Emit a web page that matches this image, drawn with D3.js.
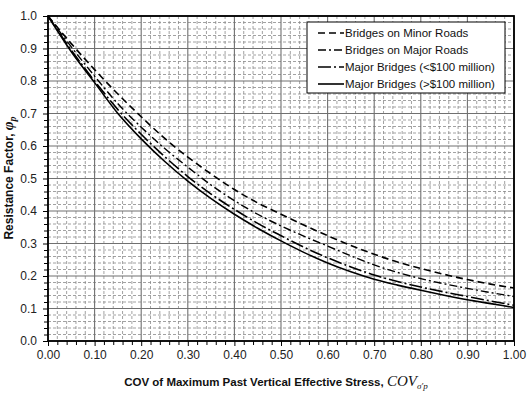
<!DOCTYPE html>
<html><head><meta charset="utf-8">
<script src="https://cdn.jsdelivr.net/npm/d3@7"></script>
<style>html,body{margin:0;padding:0;background:#fff}svg{display:block}</style>
</head><body>
<script>
const cov = [0,0.05,0.10,0.15,0.20,0.25,0.30,0.35,0.40,0.45,0.50,0.55,0.60,0.65,0.70,0.75,0.80,0.85,0.90,0.95,1.00];
const minorRoads = [1.0,0.915,0.835,0.760,0.690,0.624,0.566,0.514,0.466,0.425,0.390,0.356,0.324,0.294,0.267,0.243,0.223,0.205,0.189,0.175,0.163];
const majorRoads = [1.0,0.905,0.815,0.730,0.658,0.593,0.535,0.480,0.432,0.390,0.354,0.322,0.292,0.262,0.234,0.211,0.192,0.176,0.162,0.149,0.137];
const majorLess  = [1.0,0.895,0.800,0.712,0.636,0.568,0.506,0.452,0.405,0.362,0.324,0.288,0.256,0.228,0.203,0.183,0.166,0.151,0.137,0.123,0.110];
const majorMore  = [1.0,0.890,0.795,0.700,0.622,0.553,0.492,0.438,0.390,0.347,0.308,0.272,0.240,0.213,0.190,0.172,0.156,0.141,0.127,0.115,0.103];
const seriesNames = ["Bridges on Minor Roads","Bridges on Major Roads","Major Bridges (<$100 million)","Major Bridges (>$100 million)"];
const xTicks = [0,0.1,0.2,0.3,0.4,0.5,0.6,0.7,0.8,0.9,1.0];
const yTicks = [0,0.1,0.2,0.3,0.4,0.5,0.6,0.7,0.8,0.9,1.0];

const W=531,H=399;
const L=48,R=514,T=16,B=341;
const svg=d3.select("body").append("svg").attr("width",W).attr("height",H);
const x=d3.scaleLinear().domain([0,1]).range([L,R]);
const y=d3.scaleLinear().domain([0,1]).range([B,T]);

const minor=d3.range(0,1.0001,0.02).map(v=>+v.toFixed(2)).filter(v=>Math.abs(v*10-Math.round(v*10))>1e-6);
const g=svg.append("g");
g.selectAll(".vx").data(minor).enter().append("line")
 .attr("x1",d=>x(d)).attr("x2",d=>x(d)).attr("y1",T).attr("y2",B)
 .attr("stroke","#8a8a8a").attr("stroke-width",0.8).attr("stroke-dasharray","3,2");
g.selectAll(".hy").data(minor).enter().append("line")
 .attr("y1",d=>y(d)).attr("y2",d=>y(d)).attr("x1",L).attr("x2",R)
 .attr("stroke","#8a8a8a").attr("stroke-width",0.8).attr("stroke-dasharray","3,2");
g.selectAll(".mx").data(xTicks).enter().append("line")
 .attr("x1",d=>x(d)).attr("x2",d=>x(d)).attr("y1",T).attr("y2",B)
 .attr("stroke","#707070").attr("stroke-width",1.1);
g.selectAll(".my").data(yTicks).enter().append("line")
 .attr("y1",d=>y(d)).attr("y2",d=>y(d)).attr("x1",L).attr("x2",R)
 .attr("stroke","#707070").attr("stroke-width",1.1);

const xAxis=d3.axisBottom(x).tickValues(xTicks).tickFormat(d3.format(".2f")).tickSize(5).tickPadding(4);
const xMinor=d3.axisBottom(x).tickValues(minor).tickFormat("").tickSize(4);
const yAxis=d3.axisLeft(y).tickValues(yTicks).tickFormat(d3.format(".1f")).tickSize(5).tickPadding(6);
const yMinor=d3.axisLeft(y).tickValues(minor).tickFormat("").tickSize(4);
function styleAx(sel){sel.select(".domain").remove();sel.selectAll("line").attr("stroke","#000").attr("stroke-width",1);
 sel.selectAll("text").attr("font-family","Liberation Sans, Arial, sans-serif").attr("font-size",12).attr("fill","#222");}
svg.append("g").attr("transform",`translate(0,${B})`).call(xMinor).call(styleAx);
svg.append("g").attr("transform",`translate(0,${B})`).call(xAxis).call(styleAx);
svg.append("g").attr("transform",`translate(${L},0)`).call(yMinor).call(styleAx);
svg.append("g").attr("transform",`translate(${L},0)`).call(yAxis).call(styleAx);

const data=[
 {name:seriesNames[0],vals:minorRoads,dash:"7,4",w:1.6},
 {name:seriesNames[1],vals:majorRoads,dash:"8,3,2,3",w:1.4},
 {name:seriesNames[2],vals:majorLess,dash:"13,3,2,3",w:1.6},
 {name:seriesNames[3],vals:majorMore,dash:null,w:1.6}
];
const line=d3.line().x((d,i)=>x(cov[i])).y(d=>y(d)).curve(d3.curveMonotoneX);
data.forEach(s=>{
 svg.append("path").datum(s.vals).attr("d",line).attr("fill","none").attr("stroke","#000")
  .attr("stroke-width",s.w).attr("stroke-dasharray",s.dash);
});

svg.append("rect").attr("x",L).attr("y",T).attr("width",R-L).attr("height",B-T)
 .attr("fill","none").attr("stroke","#000").attr("stroke-width",1.8);

const lg=svg.append("g");
lg.append("rect").attr("x",307).attr("y",22).attr("width",198).attr("height",71)
 .attr("fill","#fff").attr("stroke","#000").attr("stroke-width",1);
data.forEach((s,i)=>{
 const yy=33+i*17;
 lg.append("line").attr("x1",318).attr("x2",344).attr("y1",yy).attr("y2",yy)
  .attr("stroke","#000").attr("stroke-width",s.w).attr("stroke-dasharray",s.dash);
 lg.append("text").attr("x",345).attr("y",yy+4).text(s.name)
  .attr("font-family","Liberation Sans, Arial, sans-serif").attr("font-size",11.5).attr("fill","#111");
});

const yt=svg.append("text").attr("transform","translate(13,178) rotate(-90)").attr("text-anchor","middle")
 .attr("font-family","Liberation Sans, Arial, sans-serif").attr("font-size",12).attr("font-weight","bold").attr("fill","#111");
yt.append("tspan").text("Resistance Factor, ");
yt.append("tspan").text("φ").attr("font-family","Liberation Serif, Times New Roman, serif").attr("font-style","italic").attr("font-size",15);
yt.append("tspan").text("p").attr("font-family","Liberation Serif, Times New Roman, serif").attr("font-style","italic").attr("font-size",10).attr("dy",3);

const xt=svg.append("text").attr("x",276).attr("y",386).attr("text-anchor","middle")
 .attr("font-family","Liberation Sans, Arial, sans-serif").attr("font-size",11.5).attr("font-weight","bold").attr("fill","#111");
xt.append("tspan").text("COV of Maximum Past Vertical Effective Stress, ");
xt.append("tspan").text("COV").attr("font-family","Liberation Serif, Times New Roman, serif").attr("font-style","italic").attr("font-weight","normal").attr("font-size",15);
xt.append("tspan").text("σ'p").attr("font-family","Liberation Serif, Times New Roman, serif").attr("font-style","italic").attr("font-weight","normal").attr("font-size",9).attr("dy",3);
</script>
</body></html>
